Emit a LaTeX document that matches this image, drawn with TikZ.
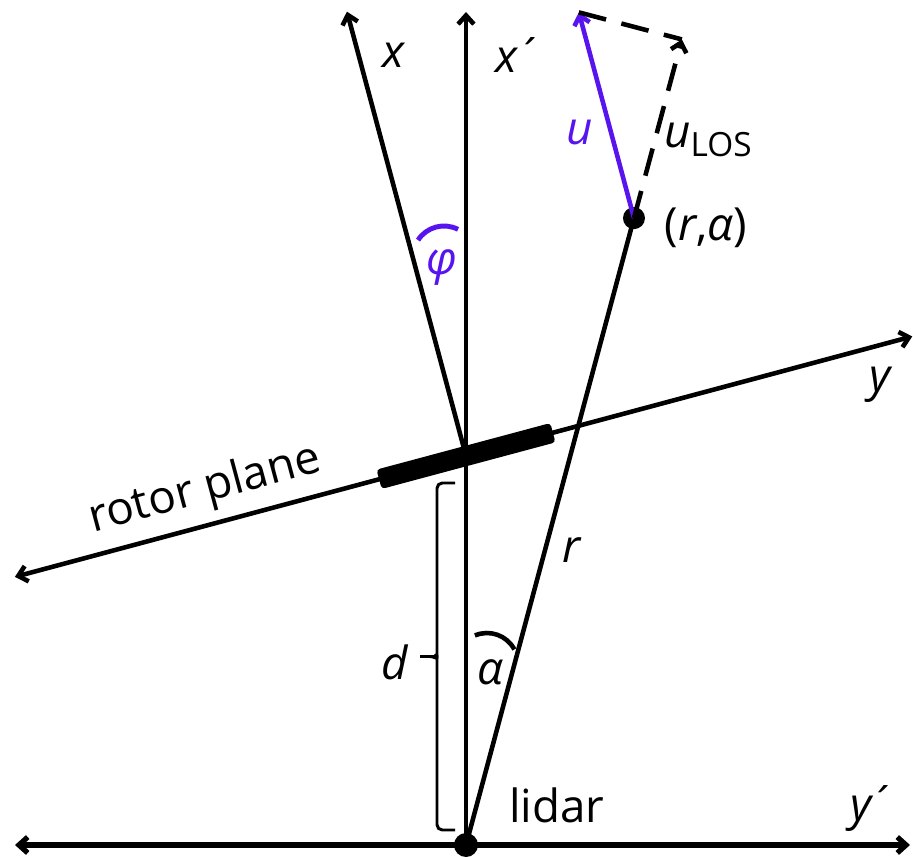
\documentclass[tikz,border=0pt]{standalone}
\usepackage{fontspec}
\setmainfont{Open Sans}
\usetikzlibrary{arrows.meta,positioning,calc,decorations.pathreplacing}
\definecolor{lpurple}{RGB}{88,20,238}

\begin{document}
\begin{tikzpicture}[x=0.02cm,y=0.02cm,
  line/.style={line width=2.6pt},
  axis/.style={line width=2.6pt,-{Straight Barb[length=5pt,width=9pt]}},
  bracket/.style={line width=1.7pt,rounded corners=3pt},
  txt/.style={font=\fontsize{26}{30}\selectfont},
  var/.style={font=\fontsize{26}{30}\selectfont\itshape}]
\useasboundingbox (0,0) rectangle (913,856);
% Main points
\coordinate (lidar) at (466,11);
\coordinate (hub) at (466,400);
\coordinate (P) at ($(lidar)+(75:649)$);
\coordinate (utip) at ($(P)+(105:213)$);
\coordinate (ulostip) at ($(P)+(75:185)$);
% Ground axis y' and vertical axis x'
\coordinate (gl) at (15,11);
\coordinate (gr) at (910,11);
\draw[axis,line width=3pt,{Straight Barb[length=5pt,width=9pt]}-{Straight Barb[length=5pt,width=9pt]}] (gl) -- (gr);
\coordinate (xptop) at (466,844);
\draw[axis] (lidar) -- (xptop);
% Rotor plane (y axis) and rotor x axis
\coordinate (yl) at ($(hub)+(195:467)$);
\coordinate (yr) at ($(hub)+(15:462)$);
\draw[axis,{Straight Barb[length=5pt,width=9pt]}-{Straight Barb[length=5pt,width=9pt]}] (yl) -- (yr);
\coordinate (xtop) at ($(hub)+(105:460)$);
\draw[axis] (hub) -- (xtop);
\node[fill,rounded corners=2pt,rotate=15,minimum width=3.6cm,minimum height=0.4cm,inner sep=0pt] (rotor) at (hub) {};
% Line of sight
\draw[line] (lidar) -- (P);
\fill (P) circle (11);
\fill (lidar) circle (12);
% Wind vector and its projection
\draw[axis,lpurple] (P) -- (utip);
\draw[axis,dashed,dash pattern=on 16pt off 9pt] (P) -- (ulostip);
\draw[line,dashed,dash pattern=on 16pt off 9pt] (utip) -- (ulostip);
% Angles
\coordinate (phic) at (444,599);
\coordinate (alphac) at (487,192);
\draw[line,lpurple,line width=2.8pt] ($(phic)+(63:31)$) arc[start angle=63,end angle=147,radius=0.62cm];
\draw[line] ($(alphac)+(28:31)$) arc[start angle=28,end angle=113,radius=0.62cm];
% Distance d
\draw[bracket] (455,373) -- (437,373) -- (437,206) to[out=-90,in=0] (430,199.5) -- (420,199.5);
\draw[bracket] (455,26) -- (437,26) -- (437,193) to[out=90,in=0] (430,199.5);
% Labels
\node[var] (xlab) at (393,801) {x};
\node[var] (xplab) at (508,801) {x\kern0.05em´};
\node[var,text=lpurple] (ulab) at (580,723) {u};
\node[txt] (uloslab) at (708,716) {\textit{u}\raisebox{-0.35ex}{\fontsize{19}{20}\selectfont LOS}};
\node[txt] (Plab) at (706,628) {(\textit{r},\textit{α})};
\node[var,text=lpurple] (philab) at (442,588) {φ};
\node[var] (ylab) at (880,471) {y};
\node[txt,rotate=15] (rotorlab) at (205,366) {rotor plane};
\node[var] (rlab) at (572,306) {r};
\node[var] (dlab) at (395,194) {d};
\node[var] (alab) at (490,184) {α};
\node[txt] (lidarlab) at (557,51) {lidar};
\node[var] (yplab) at (862,48) {y\kern0.05em´};
\end{tikzpicture}
\end{document}
